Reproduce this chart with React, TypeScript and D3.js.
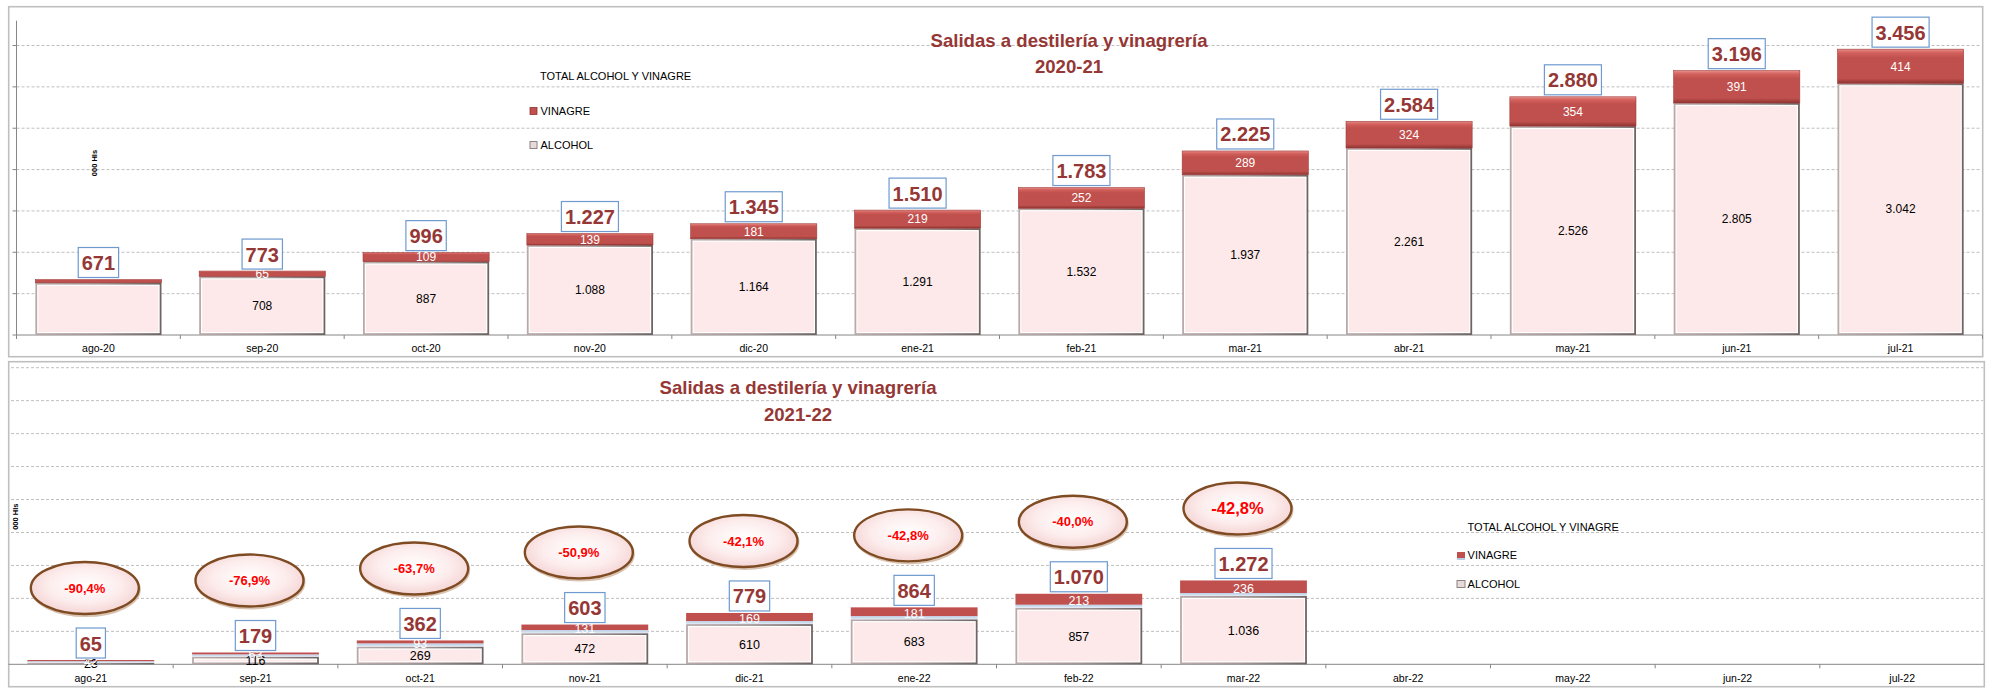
import React from "react";
import * as d3 from "d3";

// ---------- DATA ----------
const months20 = ["ago-20", "sep-20", "oct-20", "nov-20", "dic-20", "ene-21", "feb-21", "mar-21", "abr-21", "may-21", "jun-21", "jul-21"];
const alcohol20 = [631, 708, 887, 1088, 1164, 1291, 1532, 1937, 2261, 2526, 2805, 3042];
const vinagre20 = [40, 65, 109, 139, 181, 219, 252, 289, 324, 354, 391, 414];
const total20 = [671, 773, 996, 1227, 1345, 1510, 1783, 2225, 2584, 2880, 3196, 3456];
const hiddenSegLabels20 = ["ago-20"];

const months21 = ["ago-21", "sep-21", "oct-21", "nov-21", "dic-21", "ene-22", "feb-22", "mar-22", "abr-22", "may-22", "jun-22", "jul-22"];
const alcohol21 = [23, 116, 269, 472, 610, 683, 857, 1036];
const vinagre21 = [42, 63, 93, 131, 169, 181, 213, 236];
const total21 = [65, 179, 362, 603, 779, 864, 1070, 1272];
const change21 = ["-90,4%", "-76,9%", "-63,7%", "-50,9%", "-42,1%", "-42,8%", "-40,0%", "-42,8%"];

const gridTicks20 = [500, 1000, 1500, 2000, 2500, 3000, 3500];
const gridTicks21 = [500, 1000, 1500, 2000, 2500, 3000, 3500, 4000, 4500];

const titleLine1 = "Salidas a destilería y vinagrería";
const titleTop2 = "2020-21";
const titleBottom2 = "2021-22";
const legendTitle = "TOTAL ALCOHOL Y VINAGRE";
const legendVin = "VINAGRE";
const legendAlc = "ALCOHOL";
const yAxisTitle = "000 Hls";

// ---------- STYLE ----------
const FONT = "'Liberation Sans', Arial, sans-serif";
const DARKRED = "#953735";
const RED = "#C0504D";
const PINK = "#FDE9E9";
const GRID = "#BFBFBF";

const es = d3.formatLocale({ decimal: ",", thousands: ".", grouping: [3], currency: ["", "€"] });
const fmt = es.format(",d");

function textW(s: string, size: number) {
  let w = 0;
  for (const c of s) {
    if (c === "." || c === ",") w += 0.278;
    else if (c === "-") w += 0.333;
    else if (c === "%") w += 0.889;
    else w += 0.556;
  }
  return w * size;
}

function TotalBox({ cx, yTop, value }: { cx: number; yTop: number; value: number }) {
  const s = fmt(value);
  const w = textW(s, 20) + 7;
  const h = 30;
  const y = yTop - 2 - h;
  return (
    <g>
      <rect x={cx - w / 2} y={y} width={w} height={h} fill="#FFFFFF" stroke="#6E9AD0" strokeWidth={1.2} />
      <text x={cx} y={y + 22.5} textAnchor="middle" fontFamily={FONT} fontWeight="bold" fontSize={20} fill={DARKRED}>
        {s}
      </text>
    </g>
  );
}

function AlcoholBox({ x, y, w, h }: { x: number; y: number; w: number; h: number }) {
  if (h <= 0) return null;
  return (
    <g>
      <rect x={x} y={y} width={w} height={h} fill="url(#alcFrame)" />
      {h > 3 && <rect x={x + 1.8} y={y + 1.8} width={w - 3.6} height={h - 3.6} fill="#FFFFFF" />}
      {h > 5 && <rect x={x + 3} y={y + 3} width={w - 6} height={h - 6} fill={PINK} />}
    </g>
  );
}

export default function App() {
  // ---- top chart scales ----
  const x20 = d3.scaleBand<string>().domain(months20).range([16.5, 1982.5]).paddingInner(0.23).paddingOuter(0.115);
  const y20 = d3.scaleLinear().domain([0, 3800]).range([335, 20.7]);
  // ---- bottom chart scales ----
  const x21 = d3.scaleBand<string>().domain(months21).range([8.5, 1984.5]).paddingInner(0.23).paddingOuter(0.115);
  const y21 = d3.scaleLinear().domain([0, 4500]).range([664.3, 367.7]);

  const step20 = x20.step();
  const step21 = x21.step();
  const bw20 = x20.bandwidth();
  const bw21 = x21.bandwidth();

  return (
    <svg width={1995} height={688} style={{ position: "absolute", left: 0, top: 0, background: "#FFFFFF" }}>
      <defs>
        <linearGradient id="vinTop" x1="0" y1="0" x2="0" y2="1">
          <stop offset="0%" stopColor="#E8908C" />
          <stop offset="10%" stopColor="#D4625E" />
          <stop offset="25%" stopColor={RED} />
          <stop offset="85%" stopColor={RED} />
          <stop offset="100%" stopColor="#8E3431" />
        </linearGradient>
        <linearGradient id="alcFrame" x1="0" y1="0" x2="1" y2="0">
          <stop offset="0%" stopColor="#B9A9A9" />
          <stop offset="50%" stopColor="#A39595" />
          <stop offset="100%" stopColor="#6F6464" />
        </linearGradient>
        <linearGradient id="blueStrip" x1="0" y1="0" x2="0" y2="1">
          <stop offset="0%" stopColor="#B8CCE4" />
          <stop offset="100%" stopColor="#E3ECF6" />
        </linearGradient>
        <radialGradient id="ellGrad" cx="50%" cy="45%" r="60%">
          <stop offset="0%" stopColor="#FFFFFF" />
          <stop offset="55%" stopColor="#FDEDED" />
          <stop offset="100%" stopColor="#F3CFCF" />
        </radialGradient>
      </defs>

      {/* ================= TOP CHART ================= */}
      <rect x={8.7} y={6.7} width={1974} height={350} fill="#FFFFFF" stroke={GRID} strokeWidth={1.6} />
      {gridTicks20.map((t) => (
        <g key={"g20" + t}>
          <line x1={16.5} x2={1981} y1={y20(t)} y2={y20(t)} stroke={GRID} strokeWidth={1} strokeDasharray="3,2" />
          <line x1={12.5} x2={16.5} y1={y20(t)} y2={y20(t)} stroke="#868686" strokeWidth={1} />
        </g>
      ))}
      <line x1={16.5} x2={16.5} y1={y20.range()[1]} y2={338} stroke="#868686" strokeWidth={1} />
      <line x1={12.5} x2={1982} y1={y20(0)} y2={y20(0)} stroke="#868686" strokeWidth={1} />
      {d3.range(months20.length + 1).map((i) => (
        <line key={"t20" + i} x1={16.5 + i * step20} x2={16.5 + i * step20} y1={y20(0)} y2={y20(0) + 4} stroke="#868686" />
      ))}
      {months20.map((m) => (
        <text key={"xl20" + m} x={(x20(m) as number) + bw20 / 2} y={352} textAnchor="middle" fontFamily={FONT} fontSize={10.5} fill="#000">
          {m}
        </text>
      ))}
      <text transform={`translate(97,163) rotate(-90)`} textAnchor="middle" fontFamily={FONT} fontWeight="bold" fontSize={7.5} fill="#000">
        {yAxisTitle}
      </text>

      {months20.map((m, i) => {
        const x = x20(m) as number;
        const yA = y20(alcohol20[i]);
        const yT = y20(total20[i]);
        return (
          <g key={"b20" + m}>
            <AlcoholBox x={x} y={yA} w={bw20} h={y20(0) - yA} />
            <rect x={x} y={yT} width={bw20} height={yA - yT} fill="url(#vinTop)" stroke="#9E3B38" strokeWidth={0.6} />
          </g>
        );
      })}
      {months20.map((m, i) => {
        if (hiddenSegLabels20.includes(m)) return null;
        const cx = (x20(m) as number) + bw20 / 2;
        const yA = y20(alcohol20[i]);
        const yT = y20(total20[i]);
        return (
          <g key={"l20" + m} fontFamily={FONT} fontSize={12} textAnchor="middle">
            <text x={cx} y={(yA + y20(0)) / 2 + 4.3} fill="#000">{fmt(alcohol20[i])}</text>
            <text x={cx} y={(yA + yT) / 2 + 4.3} fill="#FFFFFF">{fmt(vinagre20[i])}</text>
          </g>
        );
      })}
      {months20.map((m, i) => (
        <TotalBox key={"tb20" + m} cx={(x20(m) as number) + bw20 / 2} yTop={y20(total20[i])} value={total20[i]} />
      ))}

      <g fontFamily={FONT} fontSize={11} fill="#000">
        <text x={540} y={80}>{legendTitle}</text>
        <rect x={530} y={107.5} width={7} height={7} fill={RED} stroke="#8E3431" strokeWidth={0.8} />
        <text x={540.5} y={115}>{legendVin}</text>
        <rect x={530} y={141.5} width={7} height={7} fill="#E6DADA" stroke="#8F8282" strokeWidth={1} />
        <text x={540.5} y={149}>{legendAlc}</text>
      </g>

      <g fontFamily={FONT} fontWeight="bold" fontSize={18.6} fill={DARKRED} textAnchor="middle">
        <text x={1069} y={46.7}>{titleLine1}</text>
        <text x={1069} y={73.3}>{titleTop2}</text>
      </g>

      {/* ================= BOTTOM CHART ================= */}
      <rect x={8.7} y={361.7} width={1975.6} height={325} fill="#FFFFFF" stroke={GRID} strokeWidth={1.6} />
      {gridTicks21.map((t) => (
        <line key={"g21" + t} x1={11} x2={1983} y1={y21(t)} y2={y21(t)} stroke={GRID} strokeWidth={1} strokeDasharray="3,2" />
      ))}
      <line x1={8.5} x2={1984} y1={y21(0)} y2={y21(0)} stroke="#868686" strokeWidth={1} />
      {d3.range(1, months21.length).map((i) => (
        <line key={"t21" + i} x1={8.5 + i * step21} x2={8.5 + i * step21} y1={y21(0)} y2={y21(0) + 4} stroke="#868686" />
      ))}
      {months21.map((m) => (
        <text key={"xl21" + m} x={(x21(m) as number) + bw21 / 2} y={682} textAnchor="middle" fontFamily={FONT} fontSize={10.5} fill="#000">
          {m}
        </text>
      ))}
      <text transform={`translate(18,516.7) rotate(-90)`} textAnchor="middle" fontFamily={FONT} fontWeight="bold" fontSize={7.5} fill="#000">
        {yAxisTitle}
      </text>

      <g fontFamily={FONT} fontWeight="bold" fontSize={18.6} fill={DARKRED} textAnchor="middle">
        <text x={798} y={394.3}>{titleLine1}</text>
        <text x={798} y={421}>{titleBottom2}</text>
      </g>

      {total21.map((tot, i) => {
        const m = months21[i];
        const x = x21(m) as number;
        const yA = y21(alcohol21[i]);
        const yT = y21(tot);
        const vh = yA - yT;
        const strip = Math.min(3, vh / 2);
        return (
          <g key={"b21" + m}>
            <AlcoholBox x={x} y={yA} w={bw21} h={y21(0) - yA} />
            <rect x={x} y={yT} width={bw21} height={vh - strip} fill={RED} />
            <rect x={x} y={yA - strip} width={bw21} height={strip} fill="url(#blueStrip)" />
          </g>
        );
      })}
      {total21.map((tot, i) => {
        const m = months21[i];
        const cx = (x21(m) as number) + bw21 / 2;
        const yA = y21(alcohol21[i]);
        const yT = y21(tot);
        return (
          <g key={"l21" + m} fontFamily={FONT} fontSize={12.5} textAnchor="middle">
            <text x={cx} y={(yA + y21(0)) / 2 + 4.5} fill="#000">{fmt(alcohol21[i])}</text>
            <text x={cx} y={(yA + yT) / 2 + 4.5} fill="#FFFFFF">{fmt(vinagre21[i])}</text>
          </g>
        );
      })}
      {total21.map((tot, i) => (
        <TotalBox key={"tb21" + i} cx={(x21(months21[i]) as number) + bw21 / 2} yTop={y21(tot)} value={tot} />
      ))}
      {change21.map((c, i) => {
        const cx = (x21(months21[i]) as number) + bw21 / 2 - 6;
        const cy = y21(total21[i]) - 72;
        const last = i === change21.length - 1;
        return (
          <g key={"e21" + i}>
            <ellipse cx={cx + 1} cy={cy + 1.5} rx={54} ry={26.5} fill="none" stroke="#D9C2B0" strokeWidth={2} />
            <ellipse cx={cx} cy={cy} rx={54} ry={26} fill="url(#ellGrad)" stroke="#7F4B22" strokeWidth={2.4} />
            <text x={cx} y={cy + (last ? 5.8 : 4.6)} textAnchor="middle" fontFamily={FONT} fontWeight="bold" fontSize={last ? 16.5 : 13} fill="#FF0000">
              {c}
            </text>
          </g>
        );
      })}

      <g fontFamily={FONT} fontSize={11} fill="#000">
        <text x={1467.6} y={531}>{legendTitle}</text>
        <rect x={1457} y={552} width={8} height={6} fill={RED} />
        <rect x={1457} y={558} width={8} height={2} fill="#B8CCE4" />
        <text x={1467.6} y={559}>{legendVin}</text>
        <rect x={1457} y={580.5} width={8} height={7} fill="#E6DADA" stroke="#8F8282" strokeWidth={1} />
        <text x={1467.6} y={588.3}>{legendAlc}</text>
      </g>
    </svg>
  );
}
